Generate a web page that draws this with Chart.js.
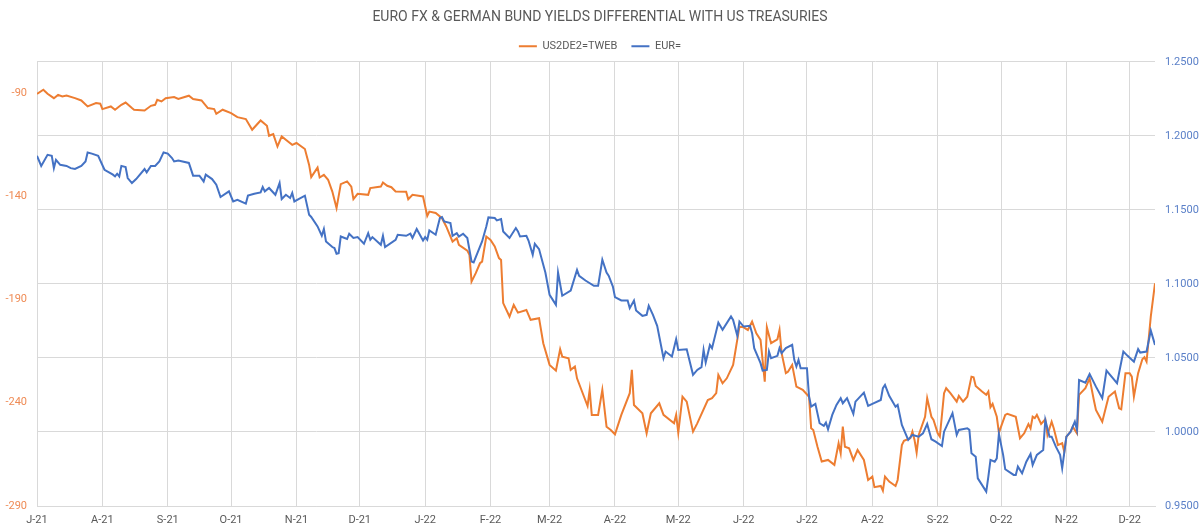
<!DOCTYPE html>
<html>
<head>
<meta charset="utf-8">
<title>Euro FX & German Bund yields differential with US Treasuries</title>
<script src="https://cdn.jsdelivr.net/npm/chart.js@4.4.1/dist/chart.umd.min.js"></script>
<style>
  html, body { margin: 0; padding: 0; background: #ffffff; }
  #wrap { width: 1200px; height: 530px; position: relative; }
</style>
</head>
<body>
<div id="wrap"><canvas id="chart"></canvas></div>
<script>
// x values are days counted from 1 Jul 2021
const monthTicks = [0, 31, 62, 92, 123, 153, 184, 215, 243, 274, 304, 335, 365, 396, 427, 457, 488, 518];
const monthLabels = ["J-21", "A-21", "S-21", "O-21", "N-21", "D-21", "J-22", "F-22", "M-22",
  "A-22", "M-22", "J-22", "J-22", "A-22", "S-22", "O-22", "N-22", "D-22"];

const spreadTicks = [-290, -240, -190, -140, -90];
const eurTicks = [0.95, 1.0, 1.05, 1.1, 1.15, 1.2, 1.25];

// US2DE2=TWEB (bp)
const spreadDays = [
  0, 3, 5, 8, 10, 12, 14, 18, 21, 24,
  28, 30, 31, 35, 37, 40, 42, 45, 46, 51,
  54, 56, 57, 59, 61, 65, 67, 72, 74, 78,
  81, 84, 85, 88, 92, 95, 99, 102, 106, 109,
  110, 112, 114, 116, 119, 121, 123, 127, 129, 130,
  133, 134, 136, 138, 140, 142, 144, 147, 149, 150,
  152, 157, 158, 163, 164, 166, 168, 170, 175, 176,
  178, 183, 185, 186, 189, 192, 194, 197, 199, 200,
  204, 205, 206, 208, 210, 211, 213, 215, 217, 219,
  220, 221, 224, 226, 228, 232, 234, 238, 240, 243,
  246, 248, 249, 252, 253, 255, 256, 261, 262, 263,
  266, 268, 270, 272, 274, 277, 281, 282, 283, 287,
  289, 291, 295, 297, 302, 303, 304, 306, 308, 311,
  313, 318, 320, 322, 323, 325, 327, 330, 333, 335,
  337, 339, 341, 343, 345, 346, 348, 351, 352, 353,
  355, 356, 358, 360, 363, 366, 367, 368, 370, 372,
  375, 378, 380, 381, 382, 383, 385, 387, 389, 392,
  394, 396, 397, 400, 401, 402, 404, 407, 408, 410,
  411, 414, 415, 416, 417, 418, 421, 422, 424, 425,
  427, 428, 430, 431, 433, 436, 437, 439, 441, 443,
  444, 445, 448, 450, 451, 452, 453, 455, 456, 459,
  460, 464, 466, 468, 470, 471, 472, 473, 474, 476,
  478, 479, 481, 482, 484, 486, 487, 488, 490, 491,
  493, 494, 497, 499, 501, 502, 505, 507, 508, 511,
  513, 514, 516, 518, 519, 520, 522, 524, 525, 526,
  528, 530,
];
const spreadValues = [
  -90.5, -88.5, -90.5, -92.6, -91.0, -91.8, -91.3, -92.6, -93.7, -96.6,
  -95.0, -95.3, -97.9, -96.6, -98.2, -95.8, -94.7, -97.4, -98.2, -98.6,
  -96.3, -95.8, -93.4, -94.2, -92.6, -92.1, -93.0, -91.4, -93.0, -93.7,
  -97.4, -97.9, -100.2, -98.2, -99.8, -101.8, -102.7, -107.9, -103.4, -106.0,
  -110.8, -110.0, -116.0, -111.1, -113.6, -115.2, -114.3, -117.2, -124.9, -130.8,
  -126.2, -131.0, -129.7, -132.1, -137.8, -145.8, -134.2, -132.9, -135.4, -141.5,
  -138.9, -139.4, -136.1, -135.4, -133.4, -135.0, -135.7, -137.8, -137.9, -141.5,
  -139.4, -140.2, -149.6, -147.5, -148.2, -150.7, -154.7, -162.0, -160.4, -163.6,
  -166.4, -168.4, -181.4, -177.3, -172.5, -171.7, -159.6, -161.2, -164.4, -170.0,
  -170.9, -191.8, -198.3, -192.7, -196.4, -195.1, -199.9, -199.1, -211.2, -221.7,
  -224.5, -214.1, -217.7, -218.5, -224.1, -222.5, -228.2, -241.6, -233.8, -245.9,
  -245.9, -233.8, -251.6, -253.2, -255.3, -245.9, -235.4, -224.1, -241.1, -245.1,
  -254.8, -245.1, -240.3, -245.9, -250.0, -245.9, -254.5, -237.1, -239.5, -254.0,
  -250.0, -238.7, -237.8, -235.4, -226.6, -230.6, -228.2, -221.7, -203.2, -203.5,
  -204.8, -200.7, -206.4, -209.6, -229.8, -203.5, -211.2, -209.3, -204.8, -216.0,
  -225.7, -225.0, -221.7, -232.2, -233.8, -237.1, -252.4, -253.2, -261.3, -268.5,
  -267.7, -270.1, -259.6, -264.5, -251.6, -261.3, -262.1, -267.7, -262.9, -267.7,
  -277.4, -275.8, -280.9, -280.3, -282.6, -275.8, -278.2, -280.3, -277.4, -260.5,
  -258.4, -257.2, -254.0, -258.0, -264.2, -255.6, -246.8, -237.8, -246.8, -248.4,
  -254.8, -256.4, -235.4, -233.0, -235.4, -239.5, -236.7, -239.5, -237.1, -227.4,
  -227.7, -231.9, -234.6, -236.2, -234.6, -242.2, -240.6, -246.8, -254.5, -245.9,
  -245.4, -246.8, -257.2, -254.8, -250.3, -252.4, -246.8, -247.5, -245.9, -250.3,
  -248.0, -255.6, -249.2, -252.4, -260.5, -259.6, -263.7, -256.4, -254.0, -251.6,
  -254.8, -236.2, -233.0, -228.2, -238.7, -243.5, -249.2, -241.1, -237.1, -234.6,
  -242.7, -243.2, -225.7, -225.7, -227.4, -237.1, -225.7, -219.0, -218.0, -220.1,
  -198.3, -182.2,
];

// EUR= (USD per EUR)
const eurDays = [
  0, 2, 5, 7, 8, 9, 11, 14, 16, 18,
  21, 23, 24, 26, 29, 32, 36, 37, 38, 39,
  40, 42, 43, 45, 47, 51, 52, 54, 56, 58,
  60, 62, 64, 65, 67, 72, 74, 77, 79, 80,
  83, 85, 87, 91, 93, 95, 99, 100, 103, 106,
  107, 108, 110, 113, 115, 116, 118, 120, 121, 122,
  127, 129, 130, 133, 135, 136, 137, 140, 141, 142,
  143, 144, 147, 148, 150, 152, 155, 157, 158, 159,
  163, 164, 165, 170, 171, 175, 177, 178, 180, 183,
  184, 185, 186, 189, 191, 192, 193, 196, 197, 199,
  200, 202, 204, 206, 207, 211, 213, 214, 217, 218,
  220, 221, 224, 227, 228, 229, 232, 233, 235, 236,
  238, 240, 241, 243, 246, 247, 249, 253, 256, 257,
  260, 264, 266, 268, 270, 271, 273, 274, 277, 280,
  281, 283, 284, 287, 289, 290, 292, 294, 297, 298,
  301, 303, 304, 308, 311, 313, 315, 316, 317, 319,
  320, 323, 325, 329, 330, 332, 333, 335, 338, 339,
  340, 343, 344, 346, 347, 348, 351, 352, 353, 355,
  358, 359, 360, 361, 362, 365, 366, 367, 369, 371,
  373, 374, 375, 377, 379, 381, 382, 384, 387, 388,
  392, 394, 396, 400, 401, 402, 404, 407, 408, 410,
  413, 415, 418, 420, 422, 424, 426, 429, 430, 434,
  436, 437, 441, 442, 443, 445, 446, 450, 451, 452,
  454, 455, 456, 458, 459, 463, 464, 465, 467, 469,
  471, 472, 474, 477, 478, 480, 481, 483, 485, 486,
  488, 490, 492, 493, 494, 497, 499, 502, 505, 507,
  510, 512, 515, 517, 520, 522, 523, 526, 528, 530,
];
const eurValues = [
  1.1865, 1.1797, 1.1872, 1.1865, 1.1782, 1.1838, 1.1804, 1.1797, 1.1782, 1.1776,
  1.1797, 1.1827, 1.1888, 1.1880, 1.1865, 1.1771, 1.1738, 1.1726, 1.1744, 1.1726,
  1.1797, 1.1789, 1.1715, 1.1681, 1.1708, 1.1776, 1.1753, 1.1797, 1.1797, 1.1827,
  1.1888, 1.1880, 1.1850, 1.1827, 1.1834, 1.1817, 1.1731, 1.1731, 1.1692, 1.1738,
  1.1708, 1.1670, 1.1587, 1.1625, 1.1557, 1.1568, 1.1542, 1.1596, 1.1609, 1.1618,
  1.1654, 1.1625, 1.1648, 1.1602, 1.1681, 1.1573, 1.1602, 1.1580, 1.1614, 1.1557,
  1.1596, 1.1467, 1.1452, 1.1388, 1.1325, 1.1371, 1.1287, 1.1249, 1.1242, 1.1204,
  1.1208, 1.1320, 1.1303, 1.1339, 1.1310, 1.1316, 1.1271, 1.1343, 1.1298, 1.1316,
  1.1264, 1.1325, 1.1249, 1.1298, 1.1332, 1.1325, 1.1339, 1.1310, 1.1371, 1.1293,
  1.1316, 1.1298, 1.1361, 1.1332, 1.1445, 1.1452, 1.1422, 1.1411, 1.1325, 1.1343,
  1.1320, 1.1339, 1.1310, 1.1151, 1.1145, 1.1287, 1.1388, 1.1449, 1.1445, 1.1429,
  1.1438, 1.1354, 1.1310, 1.1377, 1.1354, 1.1320, 1.1325, 1.1293, 1.1197, 1.1271,
  1.1235, 1.1129, 1.1077, 1.0926, 1.0859, 1.1077, 1.0920, 1.0955, 1.1095, 1.1055,
  1.1023, 1.0987, 1.0987, 1.1163, 1.1077, 1.1055, 1.0982, 1.0911, 1.0888, 1.0888,
  1.0836, 1.0888, 1.0820, 1.0784, 1.0791, 1.0852, 1.0791, 1.0717, 1.0498, 1.0543,
  1.0509, 1.0627, 1.0554, 1.0559, 1.0386, 1.0419, 1.0438, 1.0554, 1.0469, 1.0588,
  1.0566, 1.0739, 1.0690, 1.0780, 1.0757, 1.0649, 1.0746, 1.0712, 1.0717, 1.0667,
  1.0566, 1.0465, 1.0415, 1.0419, 1.0543, 1.0498, 1.0514, 1.0566, 1.0532, 1.0566,
  1.0588, 1.0487, 1.0442, 1.0487, 1.0431, 1.0431, 1.0239, 1.0171, 1.0190, 1.0059,
  1.0041, 1.0063, 1.0018, 1.0115, 1.0183, 1.0228, 1.0194, 1.0228, 1.0122, 1.0205,
  1.0266, 1.0176, 1.0190, 1.0216, 1.0296, 1.0318, 1.0244, 1.0171, 1.0183, 1.0048,
  0.9946, 0.9980, 0.9968, 0.9991, 1.0054, 0.9951, 0.9935, 0.9905, 1.0002, 1.0127,
  0.9980, 1.0014, 1.0025, 1.0014, 0.9856, 0.9833, 0.9687, 0.9597, 0.9698, 0.9811,
  0.9799, 0.9822, 0.9987, 0.9845, 0.9748, 0.9710, 0.9710, 0.9766, 0.9721, 0.9799,
  0.9851, 0.9777, 0.9845, 0.9878, 1.0081, 0.9968, 0.9968, 0.9901, 0.9845, 0.9755,
  0.9968, 1.0002, 1.0070, 1.0014, 1.0351, 1.0333, 1.0392, 1.0306, 1.0228, 1.0415,
  1.0363, 1.0329, 1.0543, 1.0514, 1.0475, 1.0559, 1.0536, 1.0543, 1.0685, 1.0588,
];

const ORANGE = "#ED7D31";
const BLUE = "#4472C4";
const GRID = "#D9D9D9";
const TEXT = "#595959";

function toPoints(xs, ys) {
  return xs.map((x, i) => ({ x, y: ys[i] }));
}

function fixedTicks(values) {
  return (scale) => {
    scale.ticks = values.map((value) => ({ value }));
  };
}

Chart.defaults.font.family = "Roboto, 'DejaVu Sans', sans-serif";
Chart.defaults.font.size = 11;
Chart.defaults.color = TEXT;

new Chart(document.getElementById("chart"), {
  type: "line",
  data: {
    datasets: [
      {
        label: "US2DE2=TWEB",
        data: toPoints(spreadDays, spreadValues),
        borderColor: ORANGE,
        backgroundColor: ORANGE,
        borderWidth: 2,
        pointRadius: 0,
        tension: 0,
        yAxisID: "ySpread",
        order: 1,
      },
      {
        label: "EUR=",
        data: toPoints(eurDays, eurValues),
        borderColor: BLUE,
        backgroundColor: BLUE,
        borderWidth: 2,
        pointRadius: 0,
        tension: 0,
        yAxisID: "yEur",
        order: 0,
      },
    ],
  },
  options: {
    responsive: true,
    maintainAspectRatio: false,
    animation: false,
    events: [],
    layout: { padding: 0 },
    plugins: {
      title: {
        display: true,
        text: "EURO FX & GERMAN BUND YIELDS DIFFERENTIAL WITH US TREASURIES",
        color: TEXT,
        font: { size: 14, weight: "normal" },
        padding: { top: 9, bottom: 1 },
      },
      legend: {
        display: true,
        position: "top",
        labels: {
          usePointStyle: true,
          pointStyle: "line",
          pointStyleWidth: 18,
          color: TEXT,
          font: { size: 11 },
          padding: 14,
          sort: (a, b) => a.datasetIndex - b.datasetIndex,
        },
      },
      tooltip: { enabled: false },
    },
    scales: {
      x: {
        type: "linear",
        min: 0,
        max: 530,
        afterBuildTicks: fixedTicks(monthTicks),
        afterFit: (scale) => {
          scale.height = 24;
        },
        grid: { color: GRID, drawTicks: false },
        border: { display: true, color: GRID },
        ticks: {
          padding: 8,
          color: TEXT,
          autoSkip: false,
          maxRotation: 0,
          callback: (value) => monthLabels[monthTicks.indexOf(value)] || "",
        },
      },
      ySpread: {
        type: "linear",
        position: "left",
        min: -290,
        max: -75,
        afterBuildTicks: fixedTicks(spreadTicks),
        afterFit: (scale) => {
          scale.width = 37;
        },
        grid: { display: false, drawTicks: false },
        border: { display: true, color: GRID },
        ticks: { padding: 10, color: "#EF8B55" },
      },
      yEur: {
        type: "linear",
        position: "right",
        min: 0.95,
        max: 1.25,
        afterBuildTicks: fixedTicks(eurTicks),
        afterFit: (scale) => {
          scale.width = 45;
        },
        grid: { color: GRID, drawTicks: false },
        border: { display: false },
        ticks: {
          padding: 10,
          color: "#5B80C8",
          callback: (value) => Number(value).toFixed(4),
        },
      },
    },
  },
});
</script>
</body>
</html>
